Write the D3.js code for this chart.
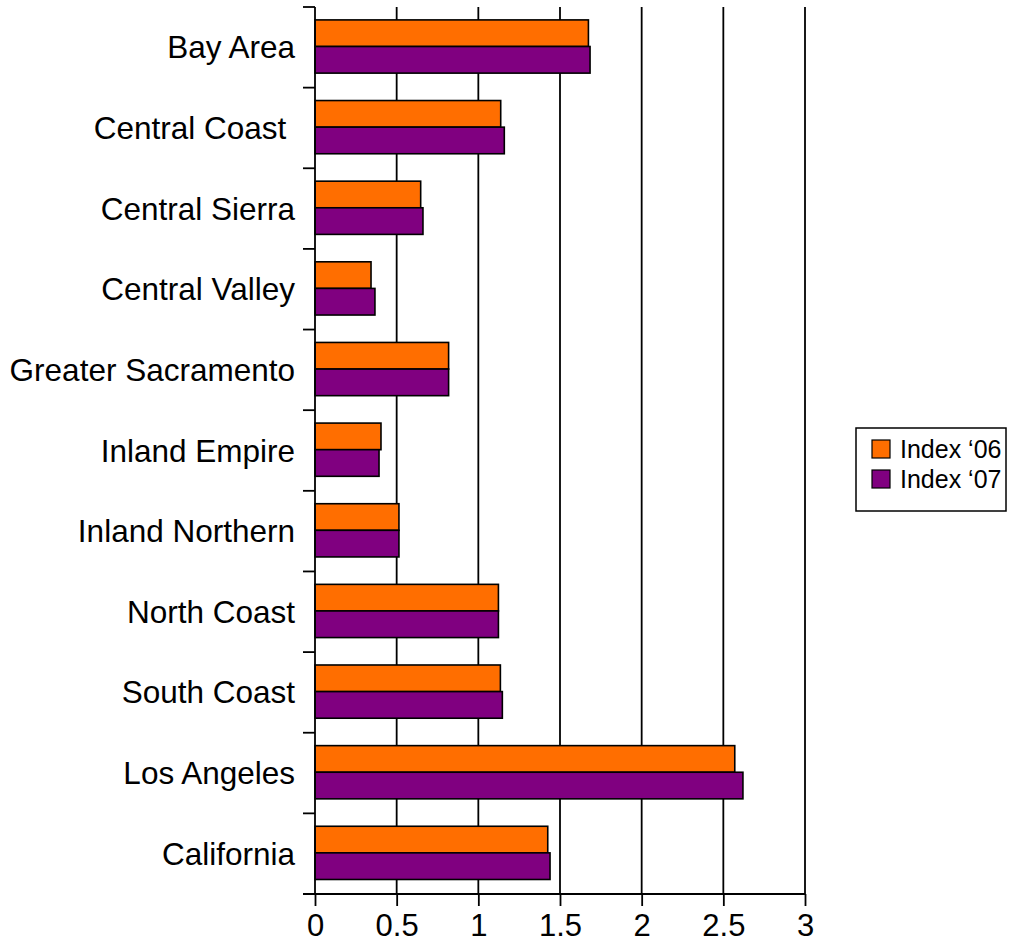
<!DOCTYPE html>
<html>
<head>
<meta charset="utf-8">
<script src="https://cdn.jsdelivr.net/npm/d3@7"></script>
<style>
  body { margin: 0; background: #fff; }
  svg { display: block; font-family: "Liberation Sans", Arial, sans-serif; }
</style>
</head>
<body>
<svg id="chart" width="1016" height="951"></svg>
<script>
// Regional index values, 2006 vs 2007
const regions = ["Bay Area", "Central Coast ", "Central Sierra", "Central Valley",
  "Greater Sacramento", "Inland Empire", "Inland Northern", "North Coast",
  "South Coast", "Los Angeles", "California"];
const index06 = [1.674, 1.137, 0.647, 0.343, 0.818, 0.404, 0.514, 1.123, 1.135, 2.57, 1.425];
const index07 = [1.684, 1.159, 0.661, 0.367, 0.818, 0.392, 0.514, 1.123, 1.147, 2.62, 1.439];
const seriesNames = ["Index \u201806", "Index \u201807"];
const seriesColors = ["#ff6e00", "#800080"];
const xTicks = [0, 0.5, 1, 1.5, 2, 2.5, 3];

const svg = d3.select("#chart");
const plotLeft = 315, plotRight = 805, plotTop = 7, plotBottom = 894;
const lineW = 1.8;

const x = d3.scaleLinear().domain([0, 3]).range([plotLeft, plotRight]);
const y = d3.scaleBand().domain(regions).range([plotTop, plotBottom]).padding(0);
const bw = y.bandwidth();
const inner = d3.scaleBand().domain([0, 1]).range([bw * 0.16, bw * 0.82]).padding(0);

// vertical gridlines
svg.append("g").selectAll("line")
  .data(xTicks.filter(d => d > 0))
  .join("line")
  .attr("x1", d => x(d)).attr("x2", d => x(d))
  .attr("y1", plotTop).attr("y2", plotBottom)
  .attr("stroke", "#000").attr("stroke-width", lineW);

// bars
const series = [index06, index07];
const barG = svg.append("g");
series.forEach((vals, si) => {
  barG.append("g").selectAll("rect")
    .data(regions.map((r, i) => ({ r, v: vals[i] })))
    .join("rect")
    .attr("x", x(0))
    .attr("y", d => y(d.r) + inner(si))
    .attr("width", d => x(d.v) - x(0))
    .attr("height", inner.bandwidth())
    .attr("fill", seriesColors[si])
    .attr("stroke", "#000")
    .attr("stroke-width", 1.6);
});

// category axis: line, ticks on band edges, labels at band centres
const yAxis = svg.append("g");
yAxis.append("line")
  .attr("x1", plotLeft).attr("x2", plotLeft).attr("y1", plotTop).attr("y2", plotBottom)
  .attr("stroke", "#000").attr("stroke-width", lineW);
yAxis.selectAll("line.tick")
  .data(d3.range(regions.length + 1))
  .join("line")
  .attr("class", "tick")
  .attr("x1", plotLeft - 12).attr("x2", plotLeft)
  .attr("y1", i => plotTop + i * bw).attr("y2", i => plotTop + i * bw)
  .attr("stroke", "#000").attr("stroke-width", lineW);
yAxis.selectAll("text")
  .data(regions)
  .join("text")
  .attr("x", 295)
  .attr("y", d => y(d) + bw / 2)
  .attr("dy", "0.35em")
  .attr("text-anchor", "end")
  .attr("font-size", 31.5)
  .style("white-space", "pre")
  .text(d => d);

// value axis
const xAxis = svg.append("g")
  .attr("transform", `translate(0,${plotBottom})`)
  .call(d3.axisBottom(x).tickValues(xTicks).tickFormat(d3.format("")).tickSize(12).tickSizeOuter(0).tickPadding(8));
xAxis.select(".domain").remove();
xAxis.selectAll(".tick line").attr("stroke", "#000").attr("stroke-width", lineW);
xAxis.selectAll(".tick text").attr("font-size", 31).attr("font-family", "Liberation Sans, Arial, sans-serif").attr("fill", "#000");
xAxis.append("line")
  .attr("x1", plotLeft - 12).attr("x2", plotRight).attr("y1", 0).attr("y2", 0)
  .attr("stroke", "#000").attr("stroke-width", lineW);

// legend
const lg = svg.append("g");
lg.append("rect")
  .attr("x", 856).attr("y", 428).attr("width", 150).attr("height", 83)
  .attr("fill", "#fff").attr("stroke", "#000").attr("stroke-width", 1.5);
const rows = lg.selectAll("g.row")
  .data(seriesNames)
  .join("g")
  .attr("class", "row")
  .attr("transform", (d, i) => `translate(872,${449 + i * 30})`);
rows.append("rect")
  .attr("x", 0).attr("y", -9).attr("width", 18).attr("height", 18)
  .attr("fill", (d, i) => seriesColors[i])
  .attr("stroke", "#000").attr("stroke-width", 1.2);
rows.append("text")
  .attr("x", 28).attr("y", 0).attr("dy", "0.35em")
  .attr("font-size", 25)
  .text(d => d);
</script>
</body>
</html>
